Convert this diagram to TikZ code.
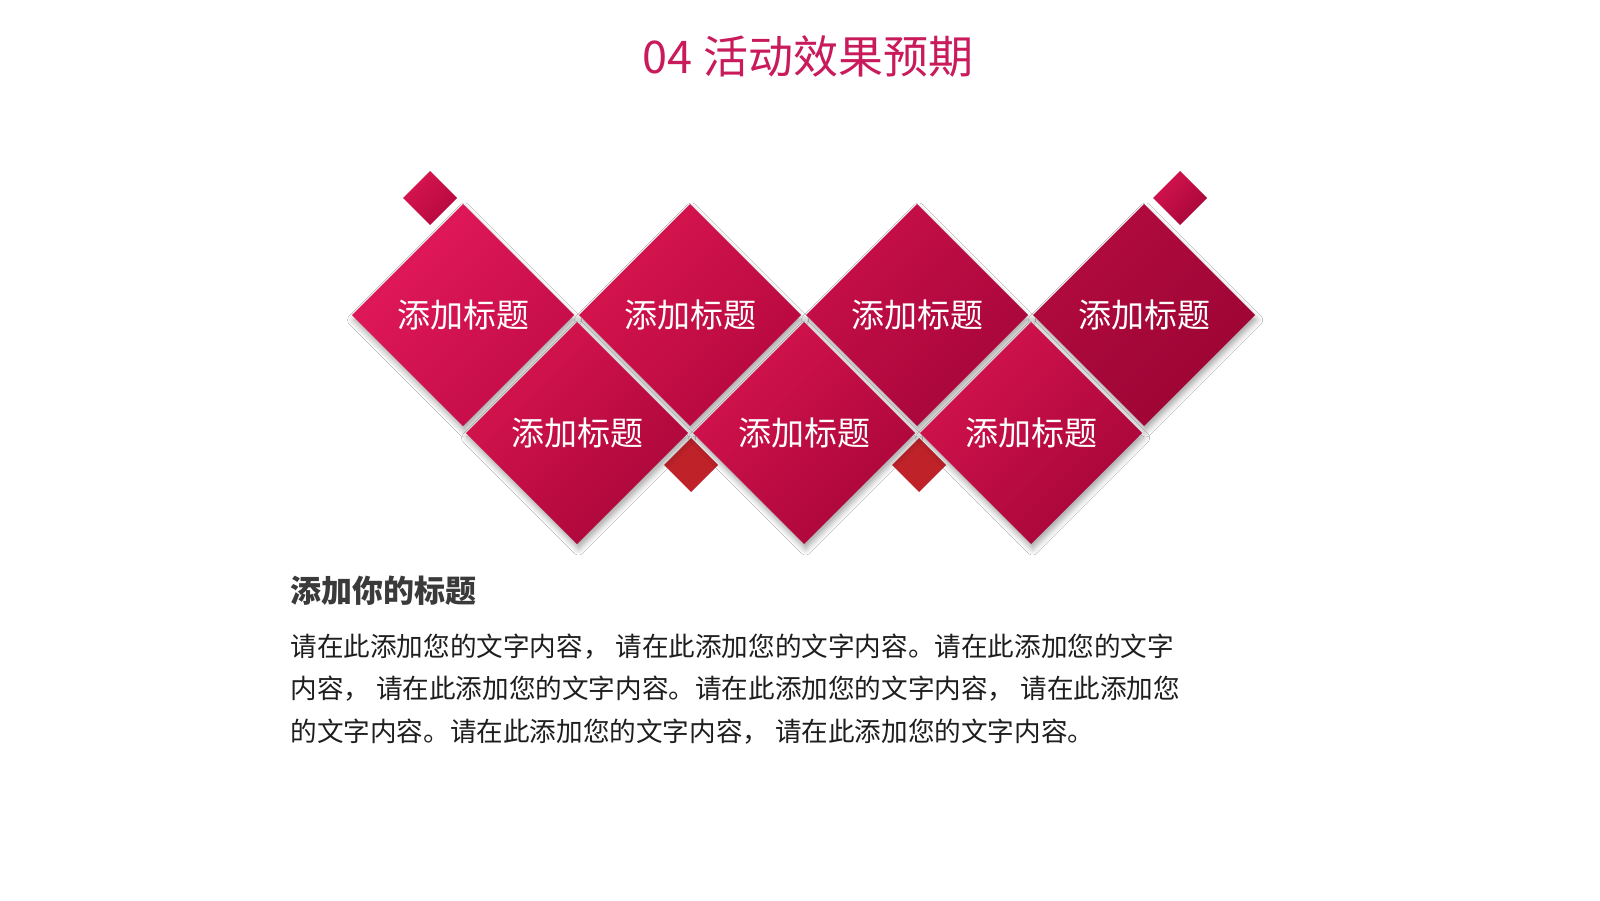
\documentclass[tikz,border=0pt]{standalone}
\usepackage{fontspec}
\setmainfont{Noto Sans CJK SC}
\usepackage{xcolor}
\usetikzlibrary{shapes.geometric, shadows.blur}
\definecolor{titlered}{HTML}{C91A5B}
\definecolor{chipred}{HTML}{C0222A}
\definecolor{headgray}{HTML}{3A3A3A}
\definecolor{bodygray}{HTML}{1E1E1E}
\definecolor{rose1}{HTML}{E3195B}\definecolor{wine1}{HTML}{C20C48}
\definecolor{rose2}{HTML}{D8154F}\definecolor{wine2}{HTML}{B5083F}
\definecolor{rose3}{HTML}{C80F4A}\definecolor{wine3}{HTML}{A6063A}
\definecolor{rose4}{HTML}{B20B40}\definecolor{wine4}{HTML}{9C0434}
\definecolor{rose5}{HTML}{D4134E}\definecolor{wine5}{HTML}{AA063A}
\tikzset{node distance=113.5pt,
         tile/.style={diamond, aspect=1, minimum width=111pt, minimum height=111pt,
                      inner sep=0pt, outer sep=0pt, text=white,
                      font=\fontsize{16.5pt}{16.5pt}\selectfont,
                      blur shadow={shadow xshift=0.8pt, shadow yshift=-2.5pt,
                                   shadow blur radius=3pt, shadow opacity=35}},
         tint/.style 2 args={top color=#1, bottom color=#2, shading angle=45},
         chip/.style={diamond, aspect=1, minimum width=27pt, minimum height=27pt,
                      inner sep=0pt, outer sep=0pt},
         bodyline/.style={anchor=base west, inner sep=0pt, text=bodygray,
                          font=\fontsize{13.3pt}{13.3pt}\selectfont},
         }

\begin{document}
\begin{tikzpicture}[x=0.5pt, y=-0.5pt]
    \fill[white] (0,0) rectangle (1600,900);
    \useasboundingbox (0,0) rectangle (1600,900);

    \node[anchor=base, text=titlered, inner sep=0pt,
          font=\fontsize{22.5pt}{22.5pt}\selectfont] (title) at (808,73) {04 活动效果预期};

    % red chips sit behind the tiles
    \node[chip, fill=chipred] (c1) at (691,465) {};
    \node[chip, fill=chipred, right of=c1, node distance=114pt] (c2) {};

    \node[tile, tint={rose1}{wine1}] (t1) at (463,315) {添加标题};
    \node[tile, tint={rose2}{wine2}, right of=t1] (t2) {添加标题};
    \node[tile, tint={rose3}{wine3}, right of=t2] (t3) {添加标题};
    \node[tile, tint={rose4}{wine4}, right of=t3] (t4) {添加标题};

    \node[tile, tint={rose2}{wine5}] (b1) at (577,433) {添加标题};
    \node[tile, tint={rose5}{wine5}, right of=b1] (b2) {添加标题};
    \node[tile, tint={rose5}{wine3}, right of=b2] (b3) {添加标题};

    \node[chip, tint={rose2}{wine2}] (s1) at (430,198) {};
    \node[chip, tint={rose5}{wine3}] (s2) at (1180,198) {};

    \node[anchor=base west, inner sep=0pt, text=headgray,
          font=\fontsize{15.5pt}{15.5pt}\selectfont\bfseries] (head) at (290,602) {添加你的标题};
    \node[bodyline] (line1) at (290,656) {请在此添加您的文字内容， 请在此添加您的文字内容。请在此添加您的文字};
    \node[bodyline] (line2) at (290,698.5) {内容， 请在此添加您的文字内容。请在此添加您的文字内容， 请在此添加您};
    \node[bodyline] (line3) at (290,741) {的文字内容。请在此添加您的文字内容， 请在此添加您的文字内容。};
\end{tikzpicture}
\end{document}
